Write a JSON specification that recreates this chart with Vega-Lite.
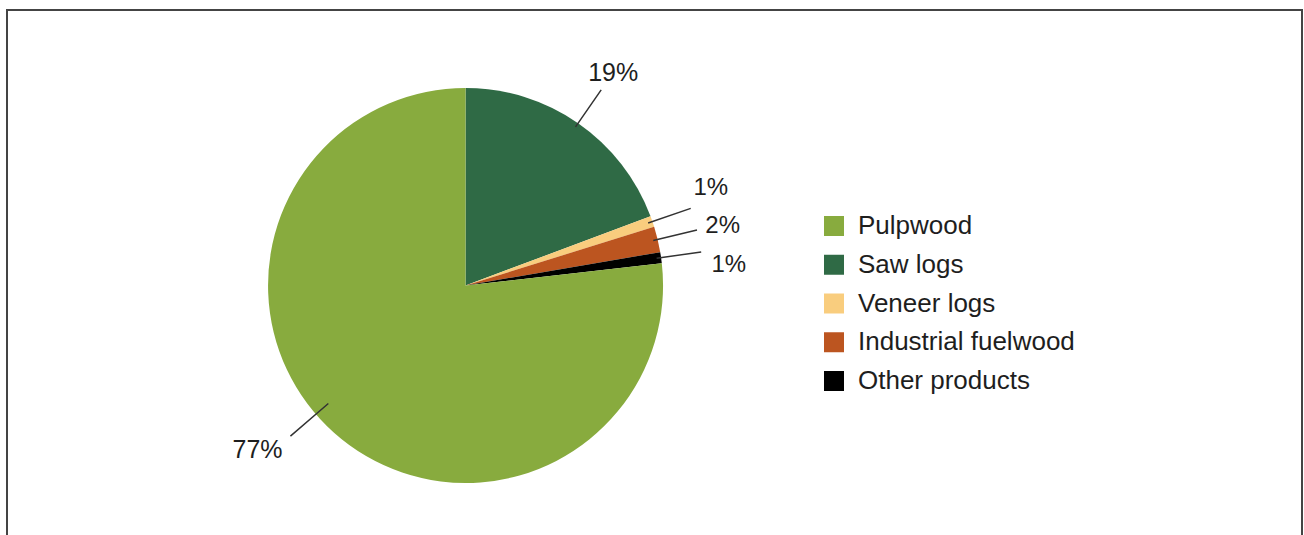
{
  "$schema": "https://vega.github.io/schema/vega-lite/v6.json",
  "width": 1295,
  "height": 531,
  "autosize": {"type": "none"},
  "padding": {"left": 7, "top": 10, "right": 2, "bottom": -6},
  "background": "white",
  "view": {"stroke": "#444444", "strokeWidth": 2, "fill": "white"},
  "config": {
    "view": {"stroke": "#444444", "strokeWidth": 2},
    "font": "Liberation Sans"
  },
  "data": {
    "values": [
      {"product": "Saw logs", "share": 0.193, "rank": 1},
      {"product": "Veneer logs", "share": 0.009, "rank": 2},
      {"product": "Industrial fuelwood", "share": 0.021, "rank": 3},
      {"product": "Other products", "share": 0.009, "rank": 4},
      {"product": "Pulpwood", "share": 0.768, "rank": 5}
    ]
  },
  "encoding": {
    "order": {"field": "rank", "type": "quantitative"}
  },
  "resolve": {"scale": {"theta": "independent"}},
  "layer": [
    {
      "mark": {"type": "arc", "outerRadius": 197.5, "x": {"expr": "width * 0.3541"}, "y": {"expr": "height * 0.5188"}},
      "encoding": {
        "theta": {"field": "share", "type": "quantitative", "stack": true},
        "color": {
          "field": "product",
          "type": "nominal",
          "scale": {
            "domain": ["Pulpwood", "Saw logs", "Veneer logs", "Industrial fuelwood", "Other products"],
            "range": ["#88AB3E", "#2F6A45", "#F9CD7E", "#BC5520", "#000000"]
          },
          "legend": {
            "orient": "none",
            "legendX": 814,
            "legendY": 203,
            "title": null,
            "symbolType": "square",
            "symbolSize": 400,
            "symbolStrokeWidth": 0,
            "symbolOpacity": 1,
            "labelFontSize": 26,
            "labelFont": "Liberation Sans",
            "labelColor": "#1e1e1e",
            "labelOffset": 11,
            "labelLimit": 0,
            "rowPadding": 12.75,
            "padding": 0
          }
        }
      }
    },
    {
      "mark": {
        "type": "arc",
        "innerRadius": 193,
        "outerRadius": 238,
        "padAngle": 3.1416,
        "fillOpacity": 0,
        "stroke": "#333333",
        "strokeWidth": 1.5,
        "x": {"expr": "width * 0.3541"},
        "y": {"expr": "height * 0.5188"}
      },
      "encoding": {
        "theta": {"field": "share", "type": "quantitative", "stack": true},
        "strokeOpacity": {"condition": {"test": "datum.product === 'Pulpwood'", "value": 0}, "value": 1}
      }
    },
    {
      "mark": {
        "type": "arc",
        "innerRadius": 181,
        "outerRadius": 231,
        "padAngle": 3.1416,
        "fillOpacity": 0,
        "stroke": "#333333",
        "strokeWidth": 1.5,
        "x": {"expr": "width * 0.3541"},
        "y": {"expr": "height * 0.5188"}
      },
      "encoding": {
        "theta": {"field": "share", "type": "quantitative", "stack": true, "scale": {"range": [1.538, 5.538]}},
        "strokeOpacity": {"condition": {"test": "datum.product === 'Pulpwood'", "value": 1}, "value": 0}
      }
    },
    {
      "mark": {
        "type": "text",
        "radius": 259,
        "fontSize": 25,
        "font": "Liberation Sans",
        "fill": "#1e1e1e",
        "align": "center",
        "baseline": "middle",
        "x": {"expr": "width * 0.3541"},
        "y": {"expr": "height * 0.5188"}
      },
      "encoding": {
        "theta": {"field": "share", "type": "quantitative", "stack": true},
        "text": {"field": "share", "type": "quantitative", "format": ".0%"},
        "opacity": {"condition": {"test": "datum.product === 'Saw logs'", "value": 1}, "value": 0}
      }
    },
    {
      "mark": {
        "type": "text",
        "radius": 265,
        "fontSize": 25,
        "font": "Liberation Sans",
        "fill": "#1e1e1e",
        "align": "center",
        "baseline": "middle",
        "x": {"expr": "width * 0.3541"},
        "y": {"expr": "height * 0.5188"}
      },
      "encoding": {
        "theta": {"field": "share", "type": "quantitative", "stack": true, "scale": {"range": [1.58, 5.58]}},
        "text": {"field": "share", "type": "quantitative", "format": ".0%"},
        "opacity": {"condition": {"test": "datum.product === 'Pulpwood'", "value": 1}, "value": 0}
      }
    },
    {
      "mark": {
        "type": "text",
        "radius": 264,
        "fontSize": 24,
        "font": "Liberation Sans",
        "fill": "#1e1e1e",
        "align": "center",
        "baseline": "middle",
        "x": {"expr": "width * 0.3541"},
        "y": {"expr": "height * 0.5188"}
      },
      "encoding": {
        "theta": {"field": "share", "type": "quantitative", "stack": true, "scale": {"range": [-0.7976, 9.273]}},
        "text": {"field": "share", "type": "quantitative", "format": ".0%"},
        "opacity": {"condition": {"test": "datum.product === 'Saw logs' || datum.product === 'Pulpwood'", "value": 0}, "value": 1}
      }
    }
  ]
}
